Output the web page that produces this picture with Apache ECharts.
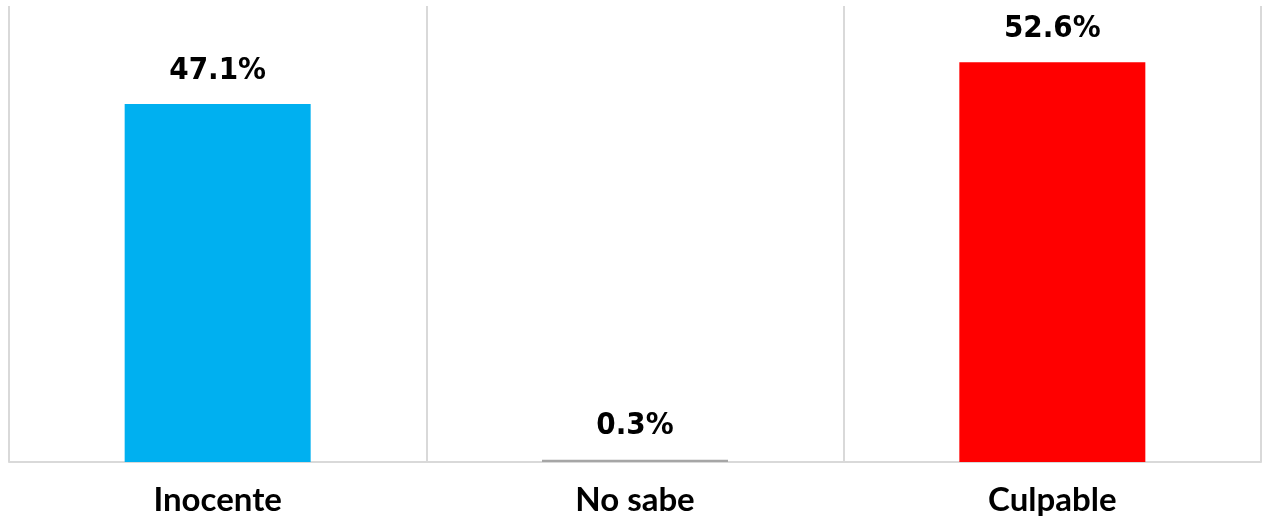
<!DOCTYPE html>
<html>
<head>
<meta charset="utf-8">
<script src="https://cdn.jsdelivr.net/npm/echarts@6/dist/echarts.min.js"></script>
<style>
html,body{margin:0;padding:0;background:#fff;}
#chart{width:1264px;height:521px;}
</style>
</head>
<body>
<div id="chart"></div>
<script>
const categories = ['Inocente', 'No sabe', 'Culpable'];
const values = [47.1, 0.3, 52.6];
const barColors = ['#00B0F0', '#A6A6A6', '#FF0000'];

const chart = echarts.init(document.getElementById('chart'));
chart.setOption({
  animation: false,
  grid: { left: 9, right: 3, top: 6, bottom: 59, containLabel: false },
  xAxis: {
    type: 'category',
    data: categories,
    boundaryGap: true,
    axisLine: { show: true, lineStyle: { color: '#D9D9D9', width: 2 } },
    axisTick: { show: false },
    splitLine: { show: true, interval: 0, lineStyle: { color: '#D9D9D9', width: 2 } },
    axisLabel: {
      interval: 0,
      margin: 22,
      color: '#000',
      fontFamily: 'Lato',
      fontWeight: 'bold',
      fontSize: 33
    }
  },
  yAxis: {
    type: 'value',
    min: 0,
    max: 60,
    show: false,
    splitLine: { show: false }
  },
  series: [{
    type: 'bar',
    data: values.map((v, i) => ({ value: v, itemStyle: { color: barColors[i] } })),
    barWidth: 186,
    label: {
      show: true,
      position: 'top',
      distance: 18,
      color: '#000',
      fontFamily: '"DejaVu Sans Condensed", sans-serif',
      fontWeight: 'bold',
      fontSize: 31,
      formatter: p => p.value.toFixed(1) + '%'
    }
  }]
});
</script>
</body>
</html>
